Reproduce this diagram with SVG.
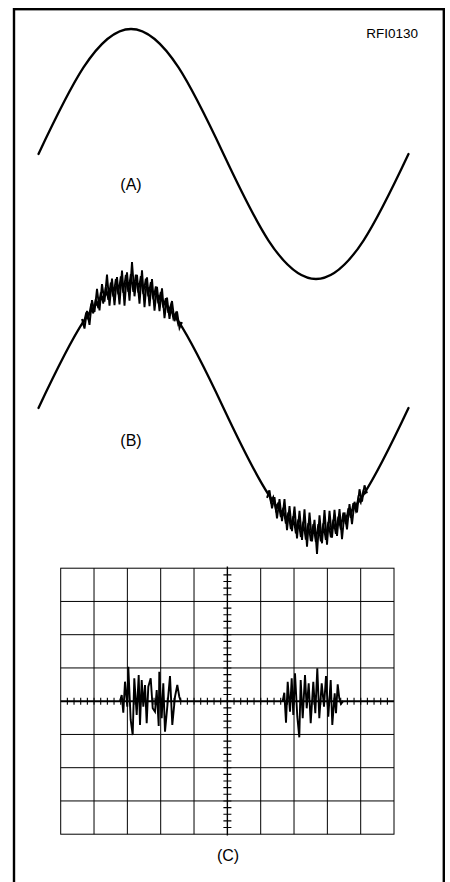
<svg xmlns="http://www.w3.org/2000/svg" width="450" height="882" viewBox="0 0 450 882">
<style>
.wave{fill:none;stroke:#000;stroke-width:2.3;stroke-linecap:round;stroke-linejoin:round}
.noise{fill:none;stroke:#000;stroke-width:1.9;stroke-linejoin:miter}
.core{fill:none;stroke:#000;stroke-width:1.7}
.grid{fill:none;stroke:#000;stroke-width:1}
.tick{fill:none;stroke:#000;stroke-width:1.1}
.burst{fill:none;stroke:#000;stroke-width:1.9;stroke-linejoin:miter}
.lbl{font-family:"Liberation Sans",Arial,sans-serif;font-size:16px;fill:#000;text-anchor:middle}
.code{font-family:"Liberation Sans",Arial,sans-serif;font-size:13.5px;fill:#000;text-anchor:end}
</style>
<rect x="14" y="9.2" width="429.8" height="900" fill="#fff" stroke="#000" stroke-width="2.4"/>
<text class="code" x="418" y="37.5">RFI0130</text>

<g id="waveA">
<path class="wave" d="M38.5,154 C68.67,89.96 97.52,29 131,29 C164.48,29 193.33,89.96 223.5,154 C253.67,218.04 282.52,279 316,279 C349.48,279 378.33,218.04 408.5,154"/>
<text class="lbl" x="131" y="190">(A)</text>
</g>

<g id="waveB">
<path class="wave" d="M38.5,408 C68.67,343.96 97.52,283 131,283 C164.48,283 193.33,343.96 223.5,408 C253.67,472.04 282.52,533 316,533 C349.48,533 378.33,472.04 408.5,408"/>
<polyline class="noise" points="82,318.9 84.5,328.6 87,310.9 89.5,324.9 92,300.2 94.5,312 97,288.8 99.5,310.3 102,284.1 104.5,301.7 107,274.5 109.5,305.7 112,278.5 114.5,305.2 117,277.1 119.5,304.5 122,270.5 124.5,305.6 127,272.3 129.5,300.6 132,262.1 134.5,296.3 137,274.9 139.5,303.7 142,270.3 144.5,307.2 147,277.3 149.5,306.1 152,279.2 154.5,310.7 157,286.9 159.5,311.2 162,288.3 164.5,318.2 167,297.6 169.5,318.9 172,301 174.5,321.2 177,311.5 179.5,328.1 182,322.1"/>
<polyline class="core" points="83.25,325.4 85.75,314.15 88.25,319.15 90.75,306.1 93.25,313.35 95.75,298.9 98.25,308.2 100.75,292.5 103.25,303.65 105.75,287 108.25,299.8 110.75,282.5 113.25,296.65 115.75,279 118.25,294.35 120.75,276.45 123.25,292.75 125.75,274.85 128.25,291.95 130.75,274.2 133.25,291.9 135.75,274.7 138.25,292.65 140.75,276.15 143.25,294.15 145.75,278.65 148.25,296.45 150.75,282.1 153.25,299.45 155.75,286.5 158.25,303.3 160.75,291.85 163.25,307.7 165.75,298.15 168.25,312.8 170.75,305.25 173.25,318.55 175.75,313.25 178.25,324.8 180.75,321.95"/>
<polyline class="noise" points="267,497.9 269.5,490.3 272,508.3 274.5,497.1 277,518.5 279.5,499 282,521.1 284.5,499.2 287,530.1 289.5,506.2 292,531.2 294.5,506.5 297,538.5 299.5,510.8 302,540 304.5,509.4 307,546.6 309.5,512.6 312,541.5 314.5,519.8 317,553.9 319.5,515.3 322,543.3 324.5,510.1 327,544.6 329.5,510.9 332,537.6 334.5,509.9 337,535.8 339.5,509.1 342,539.1 344.5,512.5 347,529.3 349.5,504 352,524.2 354.5,501.8 357,512.5 359.5,489.3 362,501.6 364.5,485.3 367,493.2"/>
<polyline class="core" points="268.25,490.6 270.75,501.85 273.25,496.85 275.75,509.9 278.25,502.65 280.75,517.1 283.25,507.8 285.75,523.5 288.25,512.35 290.75,529 293.25,516.2 295.75,533.5 298.25,519.35 300.75,537 303.25,521.65 305.75,539.55 308.25,523.25 310.75,541.15 313.25,524.05 315.75,541.8 318.25,524.1 320.75,541.3 323.25,523.35 325.75,539.85 328.25,521.85 330.75,537.35 333.25,519.55 335.75,533.9 338.25,516.55 340.75,529.5 343.25,512.7 345.75,524.15 348.25,508.3 350.75,517.85 353.25,503.2 355.75,510.75 358.25,497.45 360.75,502.75 363.25,491.2 365.75,494.05"/>
<text class="lbl" x="131" y="446">(B)</text>
</g>

<g id="scope">
<rect class="grid" x="60.7" y="568.2" width="333.3" height="266"/>
<path class="grid" d="M94.03,568.2V834.2M127.37,568.2V834.2M160.7,568.2V834.2M194.03,568.2V834.2M260.7,568.2V834.2M294.03,568.2V834.2M327.37,568.2V834.2M360.7,568.2V834.2M60.7,601.45H394M60.7,634.7H394M60.7,667.95H394M60.7,734.45H394M60.7,767.7H394M60.7,800.95H394"/>
<path fill="none" stroke="#000" stroke-width="1.4" d="M227.37,566.5V835.5"/>
<path fill="none" stroke="#000" stroke-width="2" d="M60.7,701.2H394"/>
<path class="tick" d="M223.4,574.85h8m-8,6.65h8m-8,6.65h8m-8,6.65h8m-8,6.65h8m-8,6.65h8m-8,6.65h8m-8,6.65h8m-8,6.65h8m-8,6.65h8m-8,6.65h8m-8,6.65h8m-8,6.65h8m-8,6.65h8m-8,6.65h8m-8,6.65h8m-8,6.65h8m-8,6.65h8m-8,6.65h8m-8,6.65h8m-8,6.65h8m-8,6.65h8m-8,6.65h8m-8,6.65h8m-8,6.65h8m-8,6.65h8m-8,6.65h8m-8,6.65h8m-8,6.65h8m-8,6.65h8m-8,6.65h8m-8,6.65h8m-8,6.65h8m-8,6.65h8m-8,6.65h8m-8,6.65h8m-8,6.65h8m-8,6.65h8m-8,6.65h8"/>
<path class="tick" d="M67.37,697.7v7m6.667,-7v7m6.667,-7v7m6.667,-7v7m6.667,-7v7m6.667,-7v7m6.667,-7v7m6.667,-7v7m6.667,-7v7m6.667,-7v7m6.667,-7v7m6.667,-7v7m6.667,-7v7m6.667,-7v7m6.667,-7v7m6.667,-7v7m6.667,-7v7m6.667,-7v7m6.667,-7v7m6.667,-7v7m6.667,-7v7m6.667,-7v7m6.667,-7v7m6.667,-7v7m6.667,-7v7m6.667,-7v7m6.667,-7v7m6.667,-7v7m6.667,-7v7m6.667,-7v7m6.667,-7v7m6.667,-7v7m6.667,-7v7m6.667,-7v7m6.667,-7v7m6.667,-7v7m6.667,-7v7m6.667,-7v7m6.667,-7v7m6.667,-7v7m6.667,-7v7m6.667,-7v7m6.667,-7v7m6.667,-7v7m6.667,-7v7m6.667,-7v7m6.667,-7v7m6.667,-7v7m6.667,-7v7"/>
<polyline class="burst" points="120,701 121.7,695 123.3,712.7 125,681.7 127.3,706.7 128.3,666.7 130.7,720 132.7,735 134.3,678.3 136.7,715 138.7,675 140,725 141.7,680 143.3,706.7 145,685 146.7,723.3 148.3,686.7 150.7,678.3 152.7,708.3 155,711.7 156.7,690 158.7,726 159.3,671.7 161.7,718.3 163.3,683.3 165,731.7 167.3,706.7 170,676 172.3,725 175,696.7 177.3,685 179.3,696.7 180.7,701"/>
<polyline class="burst" points="282.7,701 284.3,692.7 286,722.7 287.7,681.7 290,711.7 291.7,678.3 293.3,715 295,673.3 297.3,716.7 299.3,737.3 300.7,680 302.7,718.3 305,675 306.7,708.3 308.7,683.3 310.7,723.3 313.3,681.7 315.3,713.3 317.3,668.3 319.3,718.3 321.7,683.3 324,706.7 326,676 328.3,716.7 330.7,680 332.3,725 334.7,693.3 336,713.3 337.7,684.3 339.3,698.3 341,704 343.3,701"/>
<text class="lbl" x="228" y="860.5">(C)</text>
</g>
</svg>
